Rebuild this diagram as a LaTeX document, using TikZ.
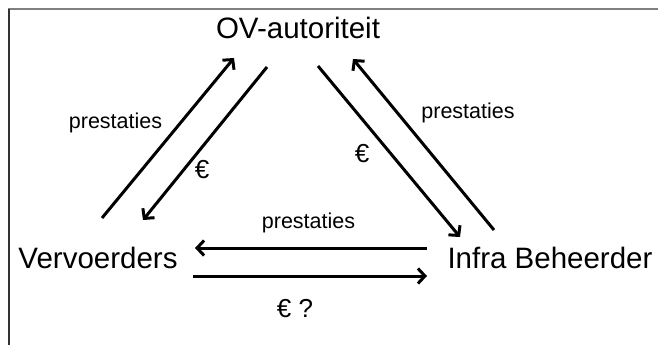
\documentclass[tikz,border=0pt]{standalone}
\usepackage{fontspec}
\setmainfont{Liberation Sans}
\usetikzlibrary{arrows.meta}

\tikzset{
  party/.style={anchor=base, inner sep=0pt, font=\fontsize{29.5}{30}\selectfont},
  flowlabel/.style={anchor=base, inner sep=0pt, font=\fontsize{21.5}{22}\selectfont},
  eurolabel/.style={anchor=base, inner sep=0pt, font=\fontsize{26}{27}\selectfont},
  flow/.style={->, line width=3pt},
}

\begin{document}
\begin{tikzpicture}[x=1pt, y=-1pt, >={Straight Barb[length=7pt,width=15pt]}]
            \useasboundingbox (0,0) rectangle (658,345);
            % frame
            \draw[line width=1.6pt, gray] (8,9) -- (658,9);
            \draw[line width=1.6pt, black!80] (9,9) -- (9,345);

            \node[party] (ov) at (298,38) {OV-autoriteit};
            \node[party] (verv) at (98,268) {Vervoerders};
            \node[party] (infra) at (550,268) {Infra Beheerder};

            \coordinate (vo1) at (102,218);
            \coordinate (vo2) at (234,58);
            \coordinate (ov1) at (267,67);
            \coordinate (ov2) at (143,220);
            \coordinate (oi1) at (318,66);
            \coordinate (oi2) at (460,237);
            \coordinate (io1) at (494,230);
            \coordinate (io2) at (353,59);
            \coordinate (iv1) at (427,248);
            \coordinate (iv2) at (195,248);
            \coordinate (vi1) at (193,276);
            \coordinate (vi2) at (427,276);

            \draw[flow] (vo1) -- (vo2);
            \draw[flow] (ov1) -- (ov2);
            \draw[flow] (oi1) -- (oi2);
            \draw[flow] (io1) -- (io2);
            \draw[flow] (iv1) -- (iv2);
            \draw[flow] (vi1) -- (vi2);

            \node[flowlabel] (pl) at (115.5,128) {prestaties};
            \node[flowlabel] (pr) at (468,118) {prestaties};
            \node[flowlabel] (pb) at (308.5,228) {prestaties};
            \node[eurolabel] (el) at (202,178) {€};
            \node[eurolabel] (er) at (362,162) {€};
            \node[eurolabel] (eb) at (295,317) {€ ?};
        \end{tikzpicture}
\end{document}
